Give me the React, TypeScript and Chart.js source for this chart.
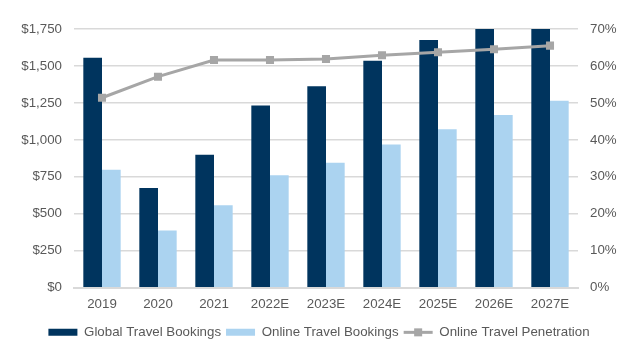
import React, { useEffect, useRef } from "react";
import { Chart, registerables } from "chart.js";

Chart.register(...registerables);

const categories = ["2019", "2020", "2021", "2022E", "2023E", "2024E", "2025E", "2026E", "2027E"];
const globalBookings = [1555, 675, 900, 1233, 1362, 1535, 1676, 1830, 1990];
const onlineBookings = [798, 387, 557, 760, 846, 968, 1072, 1169, 1264];
const penetration = [51.4, 57.1, 61.6, 61.6, 61.9, 62.9, 63.7, 64.5, 65.5];
const leftTicks = [0, 250, 500, 750, 1000, 1250, 1500, 1750];
const rightTicks = [0, 10, 20, 30, 40, 50, 60, 70];

const DARK = "#00345E";
const LIGHT = "#ABD3F0";
const GRAY = "#A6A6A6";
const TEXT = "#595959";
const GRID = "#D9D9D9";
const FONT = "'Liberation Sans', Arial, sans-serif";
const FS = 13.3;

export default function App() {
  const ref = useRef<HTMLCanvasElement | null>(null);
  useEffect(() => {
    if (!ref.current) return;
    const legendLine = {
      id: "legendLine",
      afterDraw(chart: any) {
        const lg = chart.legend;
        if (!lg || !lg.legendHitBoxes || !lg.legendHitBoxes[2]) return;
        const hb = lg.legendHitBoxes[2];
        const ctx = chart.ctx;
        const cy = hb.top + hb.height / 2;
        const bw = 29;
        ctx.save();
        ctx.strokeStyle = GRAY;
        ctx.lineWidth = 3;
        ctx.beginPath();
        ctx.moveTo(hb.left, cy);
        ctx.lineTo(hb.left + bw, cy);
        ctx.stroke();
        ctx.fillStyle = GRAY;
        ctx.fillRect(hb.left + bw / 2 - 4, cy - 4, 8, 8);
        ctx.restore();
      },
    };
    const chart = new Chart(ref.current, {
      type: "bar",
      data: {
        labels: categories,
        datasets: [
          {
            type: "bar",
            label: "Global Travel Bookings",
            data: globalBookings,
            backgroundColor: DARK,
            yAxisID: "y",
            order: 1,
            categoryPercentage: 0.667,
            barPercentage: 1.0,
          },
          {
            type: "bar",
            label: "Online Travel Bookings",
            data: onlineBookings,
            backgroundColor: LIGHT,
            yAxisID: "y",
            order: 1,
            categoryPercentage: 0.667,
            barPercentage: 1.0,
          },
          {
            type: "line",
            label: "Online Travel Penetration",
            data: penetration,
            borderColor: GRAY,
            backgroundColor: GRAY,
            borderWidth: 3,
            pointStyle: "rect",
            pointRadius: 5.7,
            pointBackgroundColor: GRAY,
            pointBorderColor: GRAY,
            pointBorderWidth: 0,
            yAxisID: "y1",
            order: 0,
            tension: 0,
          } as any,
        ],
      },
      options: {
        animation: false,
        responsive: true,
        maintainAspectRatio: false,
        layout: { padding: { top: 29, bottom: 8, left: 0, right: 0 } },
        plugins: {
          tooltip: { enabled: false },
          legend: {
            position: "bottom",
            labels: {
              boxWidth: 29,
              boxHeight: 7,
              padding: 5,
              color: TEXT,
              font: { family: FONT, size: FS },
              sort: (a: any, b: any) => a.datasetIndex - b.datasetIndex,
              generateLabels: (c: any) =>
                c.data.datasets.map((ds: any, i: number) => ({
                  text: ds.label,
                  fillStyle: i < 2 ? ds.backgroundColor : "rgba(0,0,0,0)",
                  strokeStyle: "rgba(0,0,0,0)",
                  lineWidth: 0,
                  hidden: false,
                  datasetIndex: i,
                  fontColor: TEXT,
                })),
            },
          },
        },
        scales: {
          x: {
            grid: { display: false, drawTicks: false },
            border: { display: true, color: GRID, width: 2 },
            ticks: { color: TEXT, font: { family: FONT, size: FS }, padding: 9, maxRotation: 0 },
            afterFit: (s: any) => {
              s.height = 33;
            },
          },
          y: {
            position: "left",
            min: 0,
            max: 1750,
            afterBuildTicks: (s: any) => {
              s.ticks = leftTicks.map((v) => ({ value: v }));
            },
            grid: { color: GRID, lineWidth: 1.5, drawTicks: false },
            border: { display: false },
            ticks: {
              color: TEXT,
              font: { family: FONT, size: FS },
              padding: 12,
              callback: (v: any) => "$" + Number(v).toLocaleString("en-US"),
            },
            afterFit: (s: any) => {
              s.width = 74;
            },
          },
          y1: {
            position: "right",
            min: 0,
            max: 70,
            afterBuildTicks: (s: any) => {
              s.ticks = rightTicks.map((v) => ({ value: v }));
            },
            grid: { display: false, drawTicks: false },
            border: { display: false },
            ticks: {
              color: TEXT,
              font: { family: FONT, size: FS },
              padding: 12,
              callback: (v: any) => v + "%",
            },
            afterFit: (s: any) => {
              s.width = 60;
            },
          },
        },
      },
      plugins: [legendLine],
    } as any);
    return () => chart.destroy();
  }, []);
  return (
    <div style={{ position: "absolute", left: 0, top: 0, width: 638, height: 357, background: "#fff" }}>
      <canvas ref={ref} />
    </div>
  );
}
